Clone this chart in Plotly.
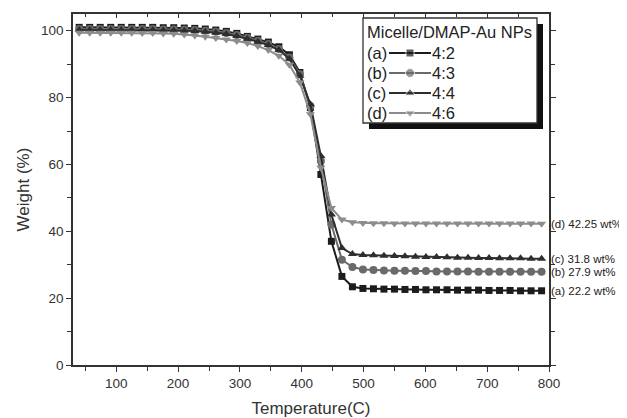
import plotly.graph_objects as go

# ---- data ----
temperature = [40, 57, 74, 91, 108, 125, 142, 159, 176, 193, 210, 227, 244, 261, 278,
               295, 312, 329, 346, 363, 380, 397, 414, 431, 448, 465, 482, 499, 516,
               533, 550, 567, 584, 601, 618, 635, 652, 669, 686, 703, 720, 737, 754,
               771, 788]
weight_a = [101.0, 101.0, 101.0, 101.0, 101.0, 101.0, 101.0, 101.0, 100.9, 100.9, 100.8,
            100.7, 100.5, 100.2, 99.8, 99.2, 98.3, 97.5, 96.6, 95.2, 92.8, 87.5, 77.0,
            57.0, 37.0, 26.5, 23.4, 22.9, 22.8, 22.7, 22.7, 22.6, 22.6, 22.5, 22.5,
            22.5, 22.4, 22.4, 22.4, 22.3, 22.3, 22.3, 22.2, 22.2, 22.2]
weight_b = [100.5, 100.5, 100.5, 100.5, 100.5, 100.5, 100.5, 100.5, 100.4, 100.4, 100.3,
            100.2, 100.0, 99.7, 99.3, 98.7, 97.9, 97.0, 96.0, 94.5, 92.0, 87.0, 77.5,
            61.0, 42.0, 31.5, 29.3, 28.6, 28.4, 28.3, 28.2, 28.2, 28.1, 28.1, 28.0,
            28.0, 28.0, 28.0, 27.9, 27.9, 27.9, 27.9, 27.9, 27.9, 27.9]
weight_c = [100.2, 100.2, 100.2, 100.2, 100.2, 100.2, 100.2, 100.2, 100.1, 100.1, 100.0,
            99.9, 99.7, 99.4, 99.0, 98.4, 97.6, 96.7, 95.7, 94.2, 91.6, 86.5, 78.0,
            62.5, 45.0, 35.0, 33.2, 32.9, 32.8, 32.7, 32.6, 32.5, 32.4, 32.3, 32.3,
            32.2, 32.1, 32.1, 32.0, 32.0, 31.9, 31.9, 31.9, 31.8, 31.8]
weight_d = [99.4, 99.4, 99.4, 99.4, 99.4, 99.4, 99.3, 99.3, 99.2, 99.1, 98.9,
            98.6, 98.2, 97.8, 97.4, 96.9, 96.3, 95.4, 94.2, 92.5, 89.8, 84.5, 75.0,
            59.0, 47.0, 43.5, 42.7, 42.5, 42.4, 42.4, 42.3, 42.3, 42.3, 42.3, 42.3,
            42.3, 42.3, 42.3, 42.3, 42.3, 42.3, 42.3, 42.3, 42.3, 42.25]

series_ids = ["(a)", "(b)", "(c)", "(d)"]
series_ratio = ["4:2", "4:3", "4:4", "4:6"]
final_labels = ["(a) 22.2 wt%", "(b) 27.9 wt%", "(c) 31.8 wt%", "(d) 42.25 wt%"]
legend_title = "Micelle/DMAP-Au NPs"

x_ticks = [100, 200, 300, 400, 500, 600, 700, 800]
y_ticks = [0, 20, 40, 60, 80, 100]

# ---- styles ----
colors = ["#1c1c1c", "#6a6a6a", "#2e2e2e", "#8c8c8c"]
symbols = ["square", "circle", "triangle-up", "triangle-down"]
msizes = [7, 8, 8, 8]
all_w = [weight_a, weight_b, weight_c, weight_d]

FONT = "Liberation Sans, Arial, sans-serif"
# page body has an 8px default margin: the figure is sized to fit the window
OFF = 8
W, H = 627 - OFF, 418 - OFF
L, R, T, B = 73 - OFF, 78, 14 - OFF, 53
PW, PH = W - L - R, H - T - B


def px(xp):
    # xp: pixel in window coordinates
    return (xp - OFF - L) / PW


def py(yp):
    return (H - B - (yp - OFF)) / PH


fig = go.Figure()

for w, c, s, ms, sid in zip(all_w, colors, symbols, msizes, series_ids):
    fig.add_trace(go.Scatter(
        x=temperature, y=w, mode="lines+markers", name=sid,
        line=dict(color=c, width=2),
        marker=dict(color=c, symbol=s, size=ms),
        showlegend=False, cliponaxis=False,
    ))

# dummy trace so that top overlay axis is drawn
fig.add_trace(go.Scatter(x=[None], y=[None], xaxis="x2", yaxis="y",
                         showlegend=False, hoverinfo="skip"))

# custom legend samples in an inset axis
for i, (c, s, ms) in enumerate(zip(colors, symbols, msizes)):
    fig.add_trace(go.Scatter(
        x=[0, 0.5, 1], y=[i, i, i], mode="lines+markers",
        line=dict(color=c, width=2),
        marker=dict(color=c, symbol=s, size=[0, ms + 1, 0]),
        xaxis="x3", yaxis="y3", showlegend=False, hoverinfo="skip",
        cliponaxis=False,
    ))

axis_font = dict(family=FONT, size=13.5, color="#333333")
title_font = dict(family=FONT, size=17, color="#333333")

fig.update_layout(
    width=W, height=H,
    margin=dict(l=L, r=R, t=T, b=B),
    paper_bgcolor="white",
    plot_bgcolor="rgba(0,0,0,0)",
    font=dict(family=FONT, color="#222222"),
    xaxis=dict(
        range=[30, 800], tickvals=x_ticks, ticks="outside", ticklen=5,
        tickwidth=1.3, tickcolor="#333333", showline=True, linecolor="#333333",
        linewidth=1.5, mirror=True, showgrid=False, zeroline=False,
        tickfont=axis_font, automargin=False,
        title=dict(text="Temperature(C)", font=title_font, standoff=12),
        minor=dict(ticks="outside", dtick=50, tick0=0, ticklen=4,
                   tickcolor="#333333", tickwidth=1.3, showgrid=False),
    ),
    xaxis2=dict(
        range=[30, 800], overlaying="x", side="top", anchor="y",
        tickvals=x_ticks, ticks="inside", ticklen=4, tickwidth=1.2,
        tickcolor="#333333", showticklabels=False, showgrid=False,
        zeroline=False, showline=False, automargin=False,
        minor=dict(ticks="inside", dtick=50, tick0=0, ticklen=3,
                   tickcolor="#333333", tickwidth=1.2, showgrid=False),
    ),
    yaxis=dict(
        range=[0, 105], tickvals=y_ticks, ticks="outside", ticklen=5,
        tickwidth=1.3, tickcolor="#333333", showline=True, linecolor="#333333",
        linewidth=1.5, mirror="ticks", showgrid=False, zeroline=False,
        tickfont=axis_font, automargin=False,
        title=dict(text="Weight (%)", font=title_font, standoff=7),
        minor=dict(ticks="outside", dtick=20, tick0=10, ticklen=4,
                   tickcolor="#333333", tickwidth=1.3, showgrid=False),
    ),
    xaxis3=dict(domain=[px(389), px(431)], range=[0, 1], visible=False,
                anchor="y3", fixedrange=True),
    yaxis3=dict(domain=[py(123), py(43)], range=[3.5, -0.5], visible=False,
                anchor="x3", fixedrange=True),
)

# legend box with shadow
fig.add_shape(type="rect", xref="paper", yref="paper",
              x0=px(369), x1=px(543), y0=py(129), y1=py(24),
              fillcolor="#111111", line=dict(width=0), layer="below")
fig.add_shape(type="rect", xref="paper", yref="paper",
              x0=px(363), x1=px(537), y0=py(123), y1=py(18),
              fillcolor="white", line=dict(color="#333333", width=1.3), layer="below")

leg_font = dict(family=FONT, size=16.5, color="#222222")
fig.add_annotation(x=px(365), y=py(32), xref="paper", yref="paper", text=legend_title,
                   showarrow=False, xanchor="left", yanchor="middle", font=leg_font)
for i, (sid, ratio) in enumerate(zip(series_ids, series_ratio)):
    yy = py(53 + 20 * i)
    fig.add_annotation(x=px(365), y=yy, xref="paper", yref="paper", text=sid,
                       showarrow=False, xanchor="left", yanchor="middle", font=leg_font)
    fig.add_annotation(x=px(430), y=yy, xref="paper", yref="paper", text=ratio,
                       showarrow=False, xanchor="left", yanchor="middle", font=leg_font)

# final residue labels
for w, lab in zip(all_w, final_labels):
    fig.add_annotation(x=800, y=w[-1], xref="x", yref="y", text=lab, showarrow=False,
                       xanchor="left", yanchor="middle", xshift=0,
                       font=dict(family=FONT, size=11.5, color="#222222"))

fig.write_html("out.html")
